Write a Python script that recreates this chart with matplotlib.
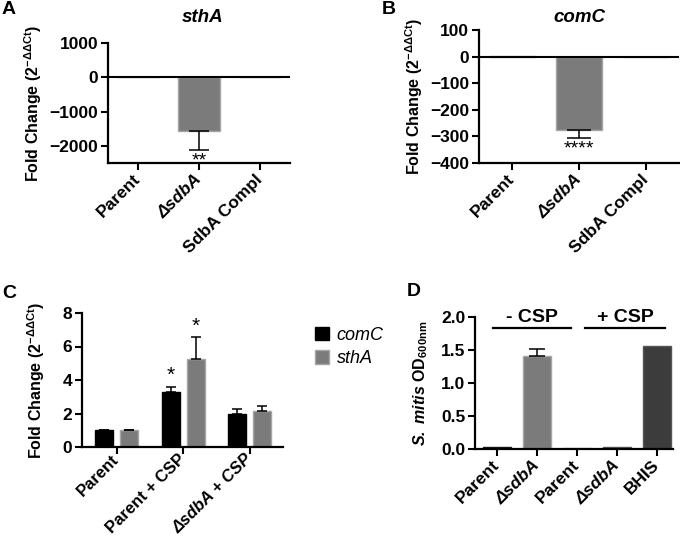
import numpy as np
import matplotlib
matplotlib.use('Agg')
import matplotlib.pyplot as plt

plt.rcParams['font.family'] = ['Liberation Sans', 'DejaVu Sans']
plt.rcParams['font.weight'] = 'bold'
plt.rcParams['axes.labelweight'] = 'bold'
plt.rcParams['mathtext.fontset'] = 'custom'
plt.rcParams['mathtext.rm'] = 'Liberation Sans:bold'
plt.rcParams['mathtext.it'] = 'Liberation Sans:italic'
plt.rcParams['mathtext.bf'] = 'Liberation Sans:bold'
plt.rcParams['mathtext.bfit'] = 'Liberation Sans:bold:italic'
plt.rcParams['mathtext.default'] = 'regular'

# data
ab_groups = ['Parent', 'ΔsdbA', 'SdbA Compl']
stha_vals = [1, -1580, 1]
stha_err = [0, 540, 0]
comc_vals = [1, -275, -3]
comc_err = [0, 30, 0]

c_groups = ['Parent', 'Parent + CSP', 'ΔsdbA + CSP']
c_comc = [1.0, 3.3, 1.97]
c_comc_err = [0, 0.3, 0.28]
c_stha = [1.0, 5.23, 2.17]
c_stha_err = [0, 1.32, 0.3]

d_groups = ['Parent', 'ΔsdbA', 'Parent', 'ΔsdbA', 'BHIS']
d_vals = [0.03, 1.41, 0.02, 0.03, 1.56]
d_err = [0, 0.11, 0, 0, 0]

GRAY = '#7b7b7b'
GRAY_EDGE = '#a5a5a5'
W, H = 680, 539
TICK = 12.5
LAB = 11.5

fig = plt.figure(figsize=(6.8, 5.39), dpi=100)


def px_axes(l, r, t, b):
    return fig.add_axes([l / W, (H - b) / H, (r - l) / W, (b - t) / H])


def style(ax, xpad=5):
    for s in ['top', 'right']:
        ax.spines[s].set_visible(False)
    for s in ['left', 'bottom']:
        ax.spines[s].set_linewidth(1.6)
    ax.tick_params(width=1.5, length=5, labelsize=TICK, pad=2)
    ax.tick_params(axis='x', pad=xpad)


def xlabels(ax, labels, size=TICK):
    ax.set_xticklabels(labels, rotation=45, ha='right', va='center',
                       rotation_mode='anchor', fontsize=size)
    for lab in ax.get_xticklabels():
        if lab.get_text().startswith('Δ'):
            lab.set_fontstyle('italic')


def letter(x, y, s):
    fig.text(x / W, 1 - y / H, s, fontsize=14, fontweight='bold', va='center', ha='left')


def title(x, y, s):
    fig.text(x / W, 1 - y / H, s, fontsize=13.5, fontstyle='italic', fontweight='bold',
             va='center', ha='center')


ylab = r'Fold Change (2$^{-\Delta\Delta Ct}$)'

# A
axA = px_axes(108, 290, 43, 163)
x = np.arange(len(ab_groups))
axA.bar(x, stha_vals, width=0.69, color=GRAY, edgecolor=GRAY_EDGE, linewidth=1)
axA.errorbar(x[1], stha_vals[1], yerr=[[stha_err[1]], [0]], fmt='none',
             ecolor='black', elinewidth=1.1, capsize=7.5, capthick=1.1)
axA.axhline(0, color='black', lw=1.5)
axA.set_xlim(-0.5, 2.5)
axA.set_ylim(-2500, 1000)
axA.set_yticks([1000, 0, -1000, -2000])
axA.set_xticks(x)
style(axA)
xlabels(axA, ab_groups)
axA.text(x[1], stha_vals[1] - stha_err[1] - 60, '**', ha='center', va='top',
         fontsize=14, fontweight='normal')
axA.set_ylabel(ylab, fontsize=LAB)
axA.yaxis.set_label_coords(-0.35, 0.5)
title(203, 17, 'sthA')
letter(2, 10, 'A')

# B
axB = px_axes(479, 679, 30, 163)
axB.bar(x, comc_vals, width=0.68, color=GRAY, edgecolor=GRAY_EDGE, linewidth=1)
axB.errorbar(x[1], comc_vals[1], yerr=[[comc_err[1]], [0]], fmt='none',
             ecolor='black', elinewidth=1.1, capsize=8.5, capthick=1.1)
axB.axhline(0, color='black', lw=1.5)
axB.set_xlim(-0.5, 2.5)
axB.set_ylim(-400, 100)
axB.set_yticks([100, 0, -100, -200, -300, -400])
axB.set_xticks(x)
style(axB)
xlabels(axB, ab_groups)
axB.text(x[1], comc_vals[1] - comc_err[1] - 10, '****', ha='center', va='top',
         fontsize=14, fontweight='normal')
axB.set_ylabel(ylab, fontsize=LAB)
axB.yaxis.set_label_coords(-0.27, 0.5)
title(579, 17, 'comC')
letter(382, 10, 'B')

# C
axC = px_axes(82, 283, 313, 447)
xc = np.arange(len(c_groups))
off, bw = 0.19, 0.27
b1 = axC.bar(xc - off, c_comc, width=bw, color='black', edgecolor='black', linewidth=1)
b2 = axC.bar(xc + off, c_stha, width=bw, color=GRAY, edgecolor=GRAY_EDGE, linewidth=1)
axC.errorbar(xc - off, c_comc, yerr=[np.zeros(3), c_comc_err], fmt='none',
             ecolor='black', elinewidth=1.1, capsize=3.8, capthick=1.1)
axC.errorbar(xc + off, c_stha, yerr=[np.zeros(3), c_stha_err], fmt='none',
             ecolor='black', elinewidth=1.1, capsize=3.8, capthick=1.1)
axC.text(xc[1] - off, c_comc[1] + c_comc_err[1] + 0.1, '*', ha='center', va='bottom',
         fontsize=15, fontweight='normal')
axC.text(xc[1] + off, c_stha[1] + c_stha_err[1] + 0.1, '*', ha='center', va='bottom',
         fontsize=15, fontweight='normal')
axC.set_xlim(-0.52, 2.5)
axC.set_ylim(0, 8)
axC.set_yticks([0, 2, 4, 6, 8])
axC.set_xticks(xc)
style(axC, xpad=2)
xlabels(axC, c_groups, size=12)
axC.set_ylabel(ylab, fontsize=LAB)
axC.yaxis.set_label_coords(-0.175, 0.5)
fig.legend([b1, b2], ['comC', 'sthA'], loc='upper left',
           bbox_to_anchor=(306 / W, 1 - 318 / H), frameon=False, borderpad=0,
           prop={'style': 'italic', 'weight': 'normal', 'size': 13},
           handlelength=0.75, handleheight=0.75, handletextpad=0.45, labelspacing=0.35)
letter(2, 293, 'C')

# D
axD = px_axes(475, 673, 317, 449)
xd = np.arange(len(d_groups))
d_colors = ['#151515', GRAY, '#9a9a9a', '#3a3a3a', '#3c3c3c']
d_edges = ['#151515', GRAY_EDGE, '#b0b0b0', '#555555', '#555555']
axD.bar(xd, d_vals, width=0.68, color=d_colors, edgecolor=d_edges, linewidth=1)
axD.errorbar(xd[1], d_vals[1], yerr=[[0], [d_err[1]]], fmt='none',
             ecolor='black', elinewidth=1.1, capsize=5.5, capthick=1.1)
axD.set_xlim(-0.55, 4.4)
axD.set_ylim(0, 2.0)
axD.set_yticks([0, 0.5, 1.0, 1.5, 2.0])
axD.set_yticklabels(['0.0', '0.5', '1.0', '1.5', '2.0'])
axD.set_xticks(xd)
style(axD)
xlabels(axD, d_groups)
for (a, b), lab in [((-0.1, 1.85), '- CSP'), ((2.2, 4.2), '+ CSP')]:
    axD.plot([a, b], [1.83, 1.83], color='black', lw=1.6, clip_on=False)
    axD.text((a + b) / 2, 1.87, lab, ha='center', va='bottom', fontsize=14)
axD.set_ylabel(r'$\mathbfit{S.\ mitis}$ OD$_{\mathbf{600nm}}$', fontsize=LAB)
axD.yaxis.set_label_coords(-0.227, 0.5)
letter(407, 292, 'D')

plt.savefig('out.png', dpi=100)
